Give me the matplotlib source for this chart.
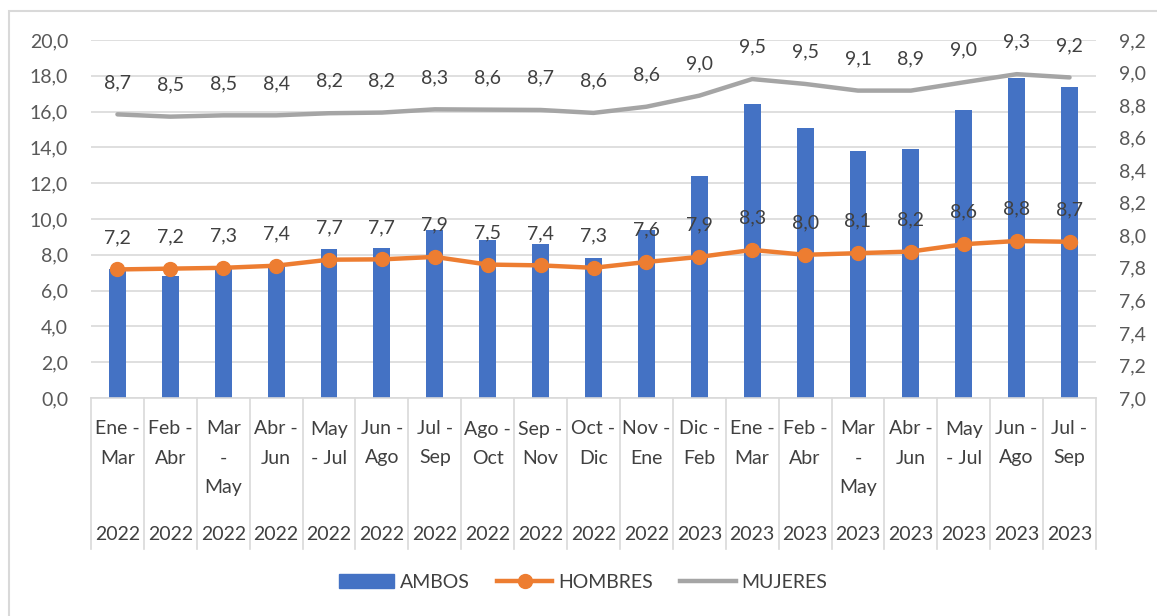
import matplotlib.pyplot as plt
import matplotlib.transforms as mtransforms
from matplotlib.patches import Rectangle, Patch
from matplotlib.lines import Line2D

plt.rcParams['font.family'] = ['Lato', 'DejaVu Sans']

# data
periodos = ["Ene -\nMar", "Feb -\nAbr", "Mar\n-\nMay", "Abr -\nJun", "May\n- Jul", "Jun -\nAgo",
            "Jul -\nSep", "Ago -\nOct", "Sep -\nNov", "Oct -\nDic", "Nov -\nEne", "Dic -\nFeb",
            "Ene -\nMar", "Feb -\nAbr", "Mar\n-\nMay", "Abr -\nJun", "May\n- Jul", "Jun -\nAgo",
            "Jul -\nSep"]
anios = ["2022"] * 11 + ["2023"] * 8

ambos = [7.2, 6.8, 7.3, 7.4, 8.3, 8.4, 9.4, 8.8, 8.6, 7.8, 9.4, 12.4, 16.4, 15.1, 13.8, 13.9,
         16.1, 17.9, 17.4]
hombres = [7.79, 7.795, 7.80, 7.813, 7.85, 7.852, 7.867, 7.82, 7.815, 7.80, 7.836, 7.867, 7.91,
           7.88, 7.89, 7.90, 7.945, 7.965, 7.96]
mujeres = [8.743, 8.729, 8.737, 8.737, 8.75, 8.754, 8.774, 8.772, 8.77, 8.752, 8.79, 8.858, 8.96,
           8.93, 8.889, 8.889, 8.94, 8.99, 8.97]
etiq_hombres = [7.2, 7.2, 7.3, 7.4, 7.7, 7.7, 7.9, 7.5, 7.4, 7.3, 7.6, 7.9, 8.3, 8.0, 8.1, 8.2,
                8.6, 8.8, 8.7]
etiq_mujeres = [8.7, 8.5, 8.5, 8.4, 8.2, 8.2, 8.3, 8.6, 8.7, 8.6, 8.6, 9.0, 9.5, 9.5, 9.1, 8.9,
                9.0, 9.3, 9.2]

azul = '#4472C4'
naranja = '#ED7D31'
gris = '#A5A5A5'
texto = '#404040'
rejilla = '#D9D9D9'
W, H = 1157, 616

def coma(v):
    return f"{v:.1f}".replace('.', ',')

fig = plt.figure(figsize=(W / 100, H / 100), dpi=100)
ax = fig.add_axes([91 / W, 1 - 398 / H, (1096 - 91) / W, (398 - 40) / H])
ax2 = ax.twinx()

x = list(range(len(periodos)))
ax.bar(x, ambos, width=0.32, color=azul, zorder=2)
ax.set_ylim(0, 20)
ax.set_yticks([i * 2 for i in range(11)])
ax.set_yticklabels([coma(i * 2) for i in range(11)])
ax.set_xlim(-0.5, len(x) - 0.5)
ax.set_xticks([])
ax.grid(axis='y', color=rejilla, lw=1.2, zorder=0)
ax.set_axisbelow(True)

ax2.plot(x, mujeres, color=gris, lw=3.2, solid_capstyle='round', zorder=3)
ax2.plot(x, hombres, color=naranja, lw=3.2, marker='o', markersize=10, zorder=4)
ax2.set_ylim(7.0, 9.2)
ticks2 = [7.0 + 0.2 * i for i in range(12)]
ax2.set_yticks(ticks2)
ax2.set_yticklabels([coma(t) for t in ticks2])

for a in (ax, ax2):
    for s in a.spines.values():
        s.set_visible(False)
    a.tick_params(axis='y', length=0, labelsize=14, labelcolor='#595959', pad=16.5)
ax.spines['bottom'].set_visible(True)
ax.spines['bottom'].set_color(rejilla)
ax.spines['bottom'].set_linewidth(1.2)

for i in x:
    ax2.annotate(coma(etiq_mujeres[i]), (i, mujeres[i]), xytext=(0, 23), textcoords='offset points',
                 ha='center', va='center', fontsize=14, color=texto, zorder=5)
    ax2.annotate(coma(etiq_hombres[i]), (i, hombres[i]), xytext=(0, 23), textcoords='offset points',
                 ha='center', va='center', fontsize=14, color=texto, zorder=5)

# category axis: month lines, year row and separators
tr = mtransforms.blended_transform_factory(ax.transData, fig.transFigure)
filas = [429, 458, 487]
for i, (p, a) in enumerate(zip(periodos, anios)):
    for j, linea in enumerate(p.split('\n')):
        fig.text(i, 1 - filas[j] / H, linea, transform=tr, ha='center', va='center',
                 fontsize=14, color=texto)
    fig.text(i, 1 - 534 / H, a, transform=tr, ha='center', va='center', fontsize=14, color=texto)
for i in range(len(x) + 1):
    fig.add_artist(Line2D([i - 0.5, i - 0.5], [1 - 398 / H, 1 - 549 / H], transform=tr,
                          color=rejilla, lw=1.2))

handles = [Patch(color=azul, label='AMBOS'),
           Line2D([], [], color=naranja, lw=3.2, marker='o', markersize=10, label='HOMBRES'),
           Line2D([], [], color=gris, lw=3.2, label='MUJERES')]
fig.legend(handles=handles, loc='center', bbox_to_anchor=(583 / W, 1 - 582 / H), ncol=3,
           frameon=False, fontsize=14, labelcolor=texto, handlelength=2.85, columnspacing=1.4,
           handletextpad=0.3)

fig.add_artist(Rectangle((9 / W, -0.1), 1.2, 1 - 11 / H + 0.1, transform=fig.transFigure,
                         fill=False, edgecolor=rejilla, lw=1.5))

fig.savefig('out.png', dpi=100)
